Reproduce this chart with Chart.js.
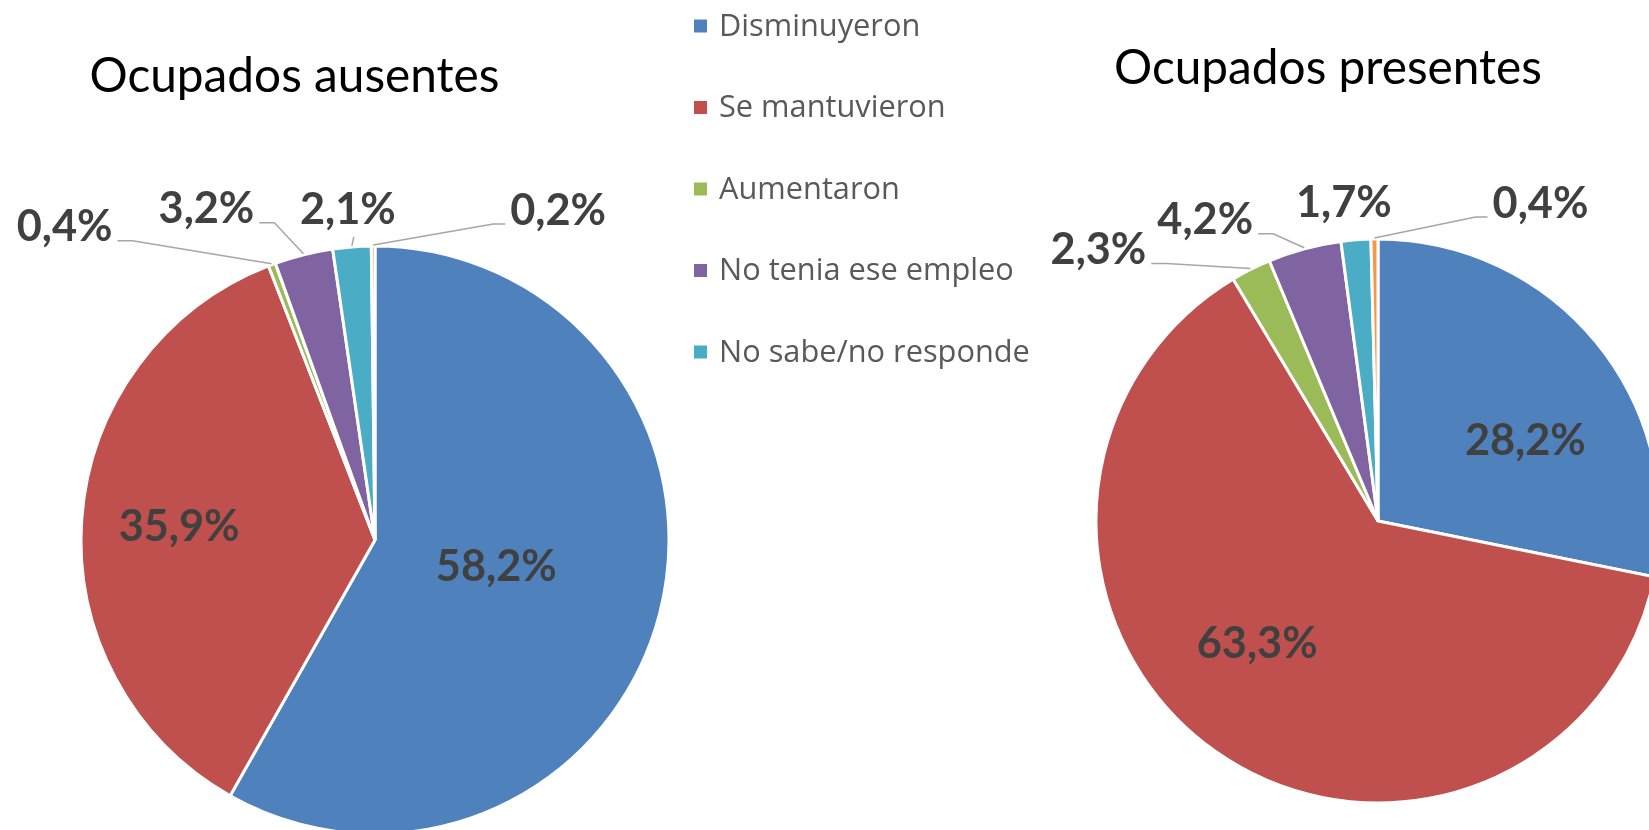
<!DOCTYPE html>
<html><head><meta charset="utf-8">
<script src="https://cdn.jsdelivr.net/npm/chart.js@4.4.1/dist/chart.umd.min.js"></script>
<style>
html,body{margin:0;padding:0;background:#fff;overflow:hidden;width:1649px;height:830px}
canvas{position:absolute;left:0;top:0}
</style></head><body>
<canvas id="c1" width="1649" height="830"></canvas>
<canvas id="c2" width="1649" height="830"></canvas>
<script>
// ---- data ----
const categories = ['Disminuyeron', 'Se mantuvieron', 'Aumentaron', 'No tenia ese empleo', 'No sabe/no responde', 'Otro'];
const legendCount = 5;
const ausentesValues = [58.2, 35.9, 0.4, 3.2, 2.1, 0.2];
const presentesValues = [28.2, 63.3, 2.3, 4.2, 1.7, 0.4];
const chartTitles = ['Ocupados ausentes', 'Ocupados presentes'];
const sliceColors = ['#4F81BD', '#C0504D', '#9BBB59', '#8064A2', '#4BACC6', '#F79646'];

// ---- layout / style ----
const W = 1649, H = 830;
const pieLayouts = [{cx: 375, cy: 540, r: 294}, {cx: 1378, cy: 521, r: 282}];
const placements = [
  [{k: 0.423, dx: 1, dy: -3}, {k: 0.668, dx: 0, dy: 3},
   {dx: -207, dy: -35, leader: 'left'}, {dx: -97, dy: -43, leader: 'left'},
   {dx: -4, dy: -34, leader: 'tick'}, {dx: 185, dy: -33, leader: 'right'}],
  [{k: 0.579, dx: 21, dy: 25}, {k: 0.607, dx: -22, dy: -15},
   {dx: -152, dy: -17, leader: 'left'}, {dx: -99, dy: -26, leader: 'left'},
   {dx: -12, dy: -34, leader: 'none'}, {dx: 166, dy: -33, leader: 'right'}]
];
const titlePos = [{x: 294.5, y: 92}, {x: 1328, y: 84}];
const legendPos = {x: 694, y0: 26, step: 81.5, box: 13, textX: 719};

const measureCtx = document.createElement('canvas').getContext('2d');
function fitSize(text, font, target) {
  measureCtx.font = font.replace('SIZE', '100px');
  return 100 * target / measureCtx.measureText(text).width;
}
const fmt = v => v.toFixed(1).replace('.', ',') + '%';

function build() {
  const labelSize = fitSize('58,2%', 'bold SIZE Lato', 121);
  const titleSize = fitSize('Ocupados ausentes', 'SIZE Lato', 410);
  const legendSize = fitSize('No sabe/no responde', 'SIZE "Open Sans"', 311);

  const labelPlugin = {
    id: 'pieLabels',
    afterDatasetsDraw(chart, args, opts) {
      const ctx = chart.ctx;
      const meta = chart.getDatasetMeta(0);
      const values = chart.data.datasets[0].data;
      ctx.save();
      ctx.font = `bold ${labelSize}px Lato`;
      meta.data.forEach((arc, i) => {
        const p = opts.placement[i];
        if (!p) return;
        const {x, y, startAngle, endAngle, outerRadius} = arc.getProps(['x', 'y', 'startAngle', 'endAngle', 'outerRadius'], true);
        const mid = (startAngle + endAngle) / 2;
        const text = fmt(values[i]);
        const m = ctx.measureText(text);
        let lx, ly;
        if (p.k !== undefined) {
          lx = x + Math.cos(mid) * outerRadius * p.k + p.dx;
          ly = y + Math.sin(mid) * outerRadius * p.k + p.dy;
        } else {
          const ax = x + Math.cos(mid) * (outerRadius + 1);
          const ay = y + Math.sin(mid) * (outerRadius + 1);
          lx = ax + p.dx; ly = ay + p.dy;
          ctx.strokeStyle = '#A6A6A6';
          ctx.lineWidth = 1.5;
          ctx.beginPath();
          if (p.leader === 'left') {
            const sx = lx + m.width / 2 + 5, sy = ly + 12;
            ctx.moveTo(sx, sy); ctx.lineTo(sx + 15, sy); ctx.lineTo(ax, ay);
          } else if (p.leader === 'right') {
            const sx = lx - m.width / 2 - 5, sy = ly + 12;
            ctx.moveTo(sx, sy); ctx.lineTo(sx - 12, sy); ctx.lineTo(ax, ay);
          } else if (p.leader === 'tick') {
            ctx.moveTo(ax + 2, ay - 9); ctx.lineTo(ax, ay);
          }
          ctx.stroke();
        }
        ctx.fillStyle = '#404040';
        ctx.textAlign = 'center';
        ctx.textBaseline = 'alphabetic';
        ctx.fillText(text, lx, ly + (m.actualBoundingBoxAscent - m.actualBoundingBoxDescent) / 2);
      });
      ctx.restore();
    }
  };

  const pageTextPlugin = {
    id: 'pageText',
    afterDraw(chart, args, opts) {
      const ctx = chart.ctx;
      ctx.save();
      ctx.fillStyle = '#000';
      ctx.font = `${titleSize}px Lato`;
      ctx.textAlign = 'center';
      ctx.textBaseline = 'alphabetic';
      ctx.fillText(opts.title, opts.titleX, opts.titleY);
      if (opts.legend) {
        ctx.font = `${legendSize}px "Open Sans"`;
        ctx.textAlign = 'left';
        ctx.textBaseline = 'middle';
        for (let i = 0; i < legendCount; i++) {
          const cy = legendPos.y0 + i * legendPos.step;
          ctx.fillStyle = sliceColors[i];
          ctx.fillRect(legendPos.x, cy - legendPos.box / 2, legendPos.box, legendPos.box);
          ctx.fillStyle = '#595959';
          ctx.fillText(categories[i], legendPos.textX, cy + 1);
        }
      }
      ctx.restore();
    }
  };

  function makeChart(id, values, idx, withLegend) {
    const L = pieLayouts[idx];
    const h = 100;
    return new Chart(document.getElementById(id), {
      type: 'pie',
      data: {
        labels: categories,
        datasets: [{
          data: values,
          backgroundColor: sliceColors,
          borderColor: '#ffffff',
          borderWidth: 3,
          radius: L.r,
          clip: false
        }]
      },
      options: {
        responsive: false,
        animation: false,
        devicePixelRatio: 1,
        layout: {padding: {left: L.cx - h, right: W - L.cx - h, top: L.cy - h, bottom: H - L.cy - h}},
        plugins: {
          legend: {display: false},
          tooltip: {enabled: false},
          title: {display: false},
          pieLabels: {placement: placements[idx]},
          pageText: {title: chartTitles[idx], titleX: titlePos[idx].x, titleY: titlePos[idx].y, legend: withLegend}
        }
      },
      plugins: [labelPlugin, pageTextPlugin]
    });
  }
  makeChart('c1', ausentesValues, 0, true);
  makeChart('c2', presentesValues, 1, false);
}
(document.fonts && document.fonts.ready ? document.fonts.ready : Promise.resolve()).then(build);
</script>
</body></html>
